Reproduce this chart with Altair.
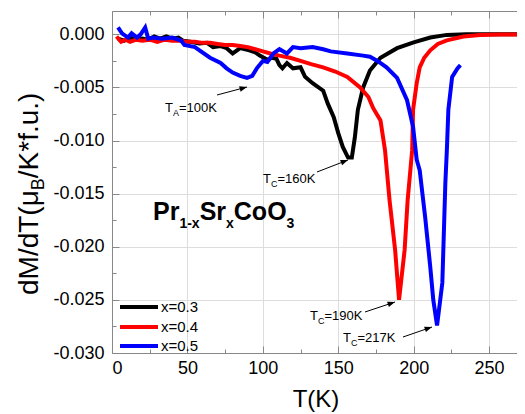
import math
import altair as alt
import pandas as pd

# ---------------- data ----------------
series_names = ["x=0.3", "x=0.4", "x=0.5"]
series_colors = ["#000000", "#ff0000", "#0000ff"]

T_03 = [4, 8, 12, 16, 20, 24, 28, 32, 36, 40, 44, 47, 52, 58, 63, 67, 72, 76, 80, 85,
        91, 95, 98, 103, 106, 109, 111, 113, 116, 120, 125, 128, 133, 140, 143, 147, 150, 153, 156.5, 159,
        161, 163, 166.5, 171, 178, 189, 200, 211, 222, 235, 250, 273]
V_03 = [-0.0004, -0.0006, -0.0003, -0.0005, -0.0004, -0.0005, -0.0002, -0.0004, -0.0002, -0.0004,
        -0.0003, -0.0006, -0.0007, -0.00085, -0.0008, -0.0012, -0.0011, -0.0013, -0.0018, -0.0013,
        -0.0015, -0.0017, -0.0020, -0.0024, -0.0022, -0.0023, -0.0029, -0.0032, -0.0027, -0.0032,
        -0.0031, -0.0040, -0.0046, -0.0053, -0.0065, -0.0078, -0.0093, -0.0106, -0.0116, -0.0116,
        -0.0097, -0.0071, -0.0050, -0.0034, -0.0022, -0.0013, -0.00075, -0.0003, -0.00005, 0.0,
        0.0, 0.0]

T_04 = [3, 6, 9, 12, 16, 20, 25, 30, 35, 40, 45, 50, 55, 60, 65, 70, 75, 80, 85, 90,
        95, 100, 105, 111, 118, 125, 132, 140, 148, 156, 164.5, 170, 173, 178, 181, 184, 187.7, 190.3, 194, 196,
        199, 199.6, 202, 204, 207, 211, 216, 222, 233, 244, 258, 273]
V_04 = [-0.0002, -0.0007, -0.0005, -0.0007, -0.0005, -0.0006, -0.0005, -0.0007, -0.0005, -0.0006,
        -0.0006, -0.0007, -0.0007, -0.0008, -0.0008, -0.0009, -0.0010, -0.0010, -0.0011, -0.0012,
        -0.0014, -0.0016, -0.0018, -0.0020, -0.0022, -0.0025, -0.0028, -0.0031, -0.0035, -0.0040,
        -0.0050, -0.0059, -0.0069, -0.0081, -0.0109, -0.0156, -0.0203, -0.0250, -0.0203, -0.0156,
        -0.0109, -0.0071, -0.0046, -0.0031, -0.0022, -0.0015, -0.0009, -0.00056, -0.0002, -0.00005,
        -0.00001, 0.0]

T_05 = [4, 6.6, 10.6, 13, 16.6, 19, 22, 24, 27, 33, 40, 46, 48, 55, 58, 65, 72, 76, 80, 85,
        89.5, 93, 96, 100, 103, 107, 111, 116, 120, 125, 133, 140, 145, 156, 166.5, 171, 176, 182, 189, 195.6,
        199.6, 202, 204, 207.6, 211, 213, 215.5, 219, 220, 221, 222, 223, 225.5, 229, 231]
V_05 = [0.00065, 0.0001, -0.0003, 0.0001, -0.0003, 0.0, 0.00065, -0.0004, -0.0003, -0.0004,
        -0.0003, -0.0006, -0.0010, -0.0012, -0.0015, -0.0022, -0.0027, -0.0032, -0.0036, -0.0039,
        -0.0041, -0.0039, -0.0032, -0.0025, -0.0026, -0.0018, -0.0014, -0.0018, -0.0012, -0.0013,
        -0.0012, -0.0014, -0.0016, -0.0018, -0.0020, -0.0021, -0.0025, -0.0031, -0.0041, -0.0062,
        -0.0087, -0.0118, -0.0128, -0.0172, -0.0219, -0.0250, -0.0274, -0.0234, -0.0187, -0.0140,
        -0.0109, -0.0071, -0.0040, -0.0032, -0.0029]

x_major = [0, 50, 100, 150, 200, 250]
x_minor = [25, 75, 125, 175, 225]
y_major = [0.0, -0.005, -0.010, -0.015, -0.020, -0.025, -0.030]
y_minor = [-0.0025, -0.0075, -0.0125, -0.0175, -0.0225, -0.0275]
x_domain = [0, 268.5]
y_domain = [-0.030, 0.0022]

x_title = "T(K)"
y_title_parts = [("dM/dT(\u03bc", 0), ("B", 1), ("/K*f.u.)", 0)]
formula_parts = [("Pr", 0), ("1-x", 1), ("Sr", 0), ("x", 1), ("CoO", 0), ("3", 1)]
annotations = [  # (parts, label anchor px, py, arrow x1, y1, x2, y2) in plot pixels
    ([("T", 0), ("A", 1), ("=100K", 0)], 53, 101, 105, 84, 135, 76),
    ([("T", 0), ("C", 1), ("=160K", 0)], 151, 172, 205, 161, 236, 149),
    ([("T", 0), ("C", 1), ("=190K", 0)], 198, 309, 253, 301, 283, 291),
    ([("T", 0), ("C", 1), ("=217K", 0)], 231, 331, 291, 326, 320, 316),
]
legend_rows_y = [296, 316, 335]

# ---------------- layout ----------------
W, H = 405, 342
FONT = "Liberation Sans"

W_REG = {'T': .611, 'A': .667, 'C': .722, '=': .584, '0': .556, '1': .556, '2': .556, '6': .556,
         '7': .556, '9': .556, 'K': .667, 'd': .556, 'M': .833, '/': .278, '(': .333, ')': .333,
         '\u03bc': .576, 'B': .667, '*': .389, 'f': .278, '.': .278, 'u': .556}
W_BOLD = {'P': .667, 'r': .389, 'S': .667, 'C': .722, 'o': .611, 'O': .778, '1': .556, '-': .333,
          'x': .556, '3': .556}


def chain(parts, x0, y0, fs_main, fs_sub, drop, table, vertical=False):
    out, pos = [], 0.0
    for text, sub in parts:
        fs = fs_sub if sub else fs_main
        if vertical:
            px, py = x0 + (drop if sub else 0), y0 - pos
        else:
            px, py = x0 + pos, y0 + (drop if sub else 0)
        out.append(dict(px=px, py=py, text=text, fs=fs))
        pos += sum(table[c] for c in text) * fs
    return out


rows = []
for name, Ts, Vs in zip(series_names, [T_03, T_04, T_05], [V_03, V_04, V_05]):
    for i, (t, v) in enumerate(zip(Ts, Vs)):
        rows.append({"T": t, "v": v, "s": name, "o": i})
df = pd.DataFrame(rows)

xs = alt.Scale(domain=x_domain, nice=False, zero=False)
ys = alt.Scale(domain=y_domain, nice=False, zero=False)
cs = alt.Scale(domain=series_names, range=series_colors)

lines = alt.Chart(df).mark_line(strokeWidth=4, clip=True).encode(
    x=alt.X("T:Q", scale=xs, axis=alt.Axis(
        orient="bottom", values=x_major, title=None, ticks=False, tickSize=0,
        labelFontSize=18, labelPadding=6, format="d", domainWidth=1)),
    y=alt.Y("v:Q", scale=ys, axis=alt.Axis(
        orient="left", values=y_major, title=None, ticks=False, tickSize=0,
        labelFontSize=18, labelPadding=8, domainWidth=1,
        labelExpr="replace(format(datum.value, '.3f'), '\u2212', '-')")),
    color=alt.Color("s:N", scale=cs, legend=None),
    order="o:Q",
)


def tick_layer(x_axis, y_axis):
    return alt.Chart(df).mark_line(opacity=0, strokeWidth=0).encode(
        x=alt.X("T:Q", scale=xs, axis=x_axis),
        y=alt.Y("v:Q", scale=ys, axis=y_axis),
        detail="s:N",
    )


def tax(orient, offset, values, size, domain=False):
    return alt.Axis(orient=orient, offset=offset, values=values, tickSize=size, labels=False,
                    domain=domain, title=None, ticks=True, tickWidth=1, domainWidth=1)


tick_layers = [
    tick_layer(tax("top", -H, x_major, 7), None),
    tick_layer(tax("top", -H, x_minor, 4), None),
    tick_layer(tax("bottom", -H, x_major, 7, domain=True), None),
    tick_layer(tax("bottom", -H, x_minor, 4), None),
    tick_layer(None, tax("right", -W, y_major, 7)),
    tick_layer(None, tax("right", -W, y_minor, 4)),
]

# annotation text pieces
ann_pieces, arrows = [], []
for parts, px, py, x1, y1, x2, y2 in annotations:
    ann_pieces += chain(parts, px, py, 13, 9, 4, W_REG)
    arrows.append(dict(x1=x1, y1=y1, x2=x2, y2=y2,
                       ang=(math.degrees(math.atan2(y2 - y1, x2 - x1)) + 360) % 360))

ann_text = alt.Chart(pd.DataFrame(ann_pieces)).mark_text(
    align="left", baseline="alphabetic", font=FONT, color="black").encode(
    x=alt.X("px:Q", scale=None), y=alt.Y("py:Q", scale=None),
    text="text:N", size=alt.Size("fs:Q", scale=None))

arrow_df = pd.DataFrame(arrows)
arrow_lines = alt.Chart(arrow_df).mark_rule(color="black", strokeWidth=1).encode(
    x=alt.X("x1:Q", scale=None), y=alt.Y("y1:Q", scale=None), x2="x2:Q", y2="y2:Q")
arrow_heads = alt.Chart(arrow_df).mark_point(
    shape="M0,0L-1,-0.38L-1,0.38Z", filled=True, color="black", opacity=1, size=220).encode(
    x=alt.X("x2:Q", scale=None), y=alt.Y("y2:Q", scale=None),
    angle=alt.Angle("ang:Q", scale=None))

formula = alt.Chart(pd.DataFrame(chain(formula_parts, 41, 209, 25, 14, 8, W_BOLD))).mark_text(
    align="left", baseline="alphabetic", font=FONT, fontWeight="bold", color="black").encode(
    x=alt.X("px:Q", scale=None), y=alt.Y("py:Q", scale=None),
    text="text:N", size=alt.Size("fs:Q", scale=None))

ytitle = alt.Chart(pd.DataFrame(chain(y_title_parts, -74, 284, 28, 18, 6, W_REG, vertical=True))).mark_text(
    align="left", baseline="alphabetic", font=FONT, angle=270, color="black").encode(
    x=alt.X("px:Q", scale=None), y=alt.Y("py:Q", scale=None),
    text="text:N", size=alt.Size("fs:Q", scale=None))

xtitle = alt.Chart(pd.DataFrame({"t": [x_title]})).mark_text(
    align="center", baseline="alphabetic", font=FONT, fontSize=24, color="black").encode(
    x=alt.value(204), y=alt.value(396), text="t:N")

leg_df = pd.DataFrame({"s": series_names, "ly": legend_rows_y})
leg_lines = alt.Chart(leg_df).mark_rule(strokeWidth=4).encode(
    x=alt.value(8), x2=alt.value(46), y=alt.Y("ly:Q", scale=None),
    color=alt.Color("s:N", scale=cs, legend=None))
leg_text = alt.Chart(leg_df).mark_text(
    align="left", baseline="middle", font=FONT, fontSize=15, color="black").encode(
    x=alt.value(49), y=alt.Y("ly:Q", scale=None), text="s:N")

chart = alt.layer(
    lines, *tick_layers, arrow_lines, arrow_heads, ann_text, formula, ytitle, xtitle,
    leg_lines, leg_text
).resolve_axis(x="independent", y="independent").properties(
    width=W, height=H,
    padding={"left": 104, "top": 3, "right": 0, "bottom": 60},
    autosize=alt.AutoSizeParams(type="none"),
).configure_view(stroke=None).configure_axis(
    grid=False, domainColor="black", tickColor="black", labelColor="black", titleColor="black",
    labelFont=FONT, titleFont=FONT,
).configure(font=FONT)

chart.save("out.html", embed_options={"renderer": "svg", "actions": False})
